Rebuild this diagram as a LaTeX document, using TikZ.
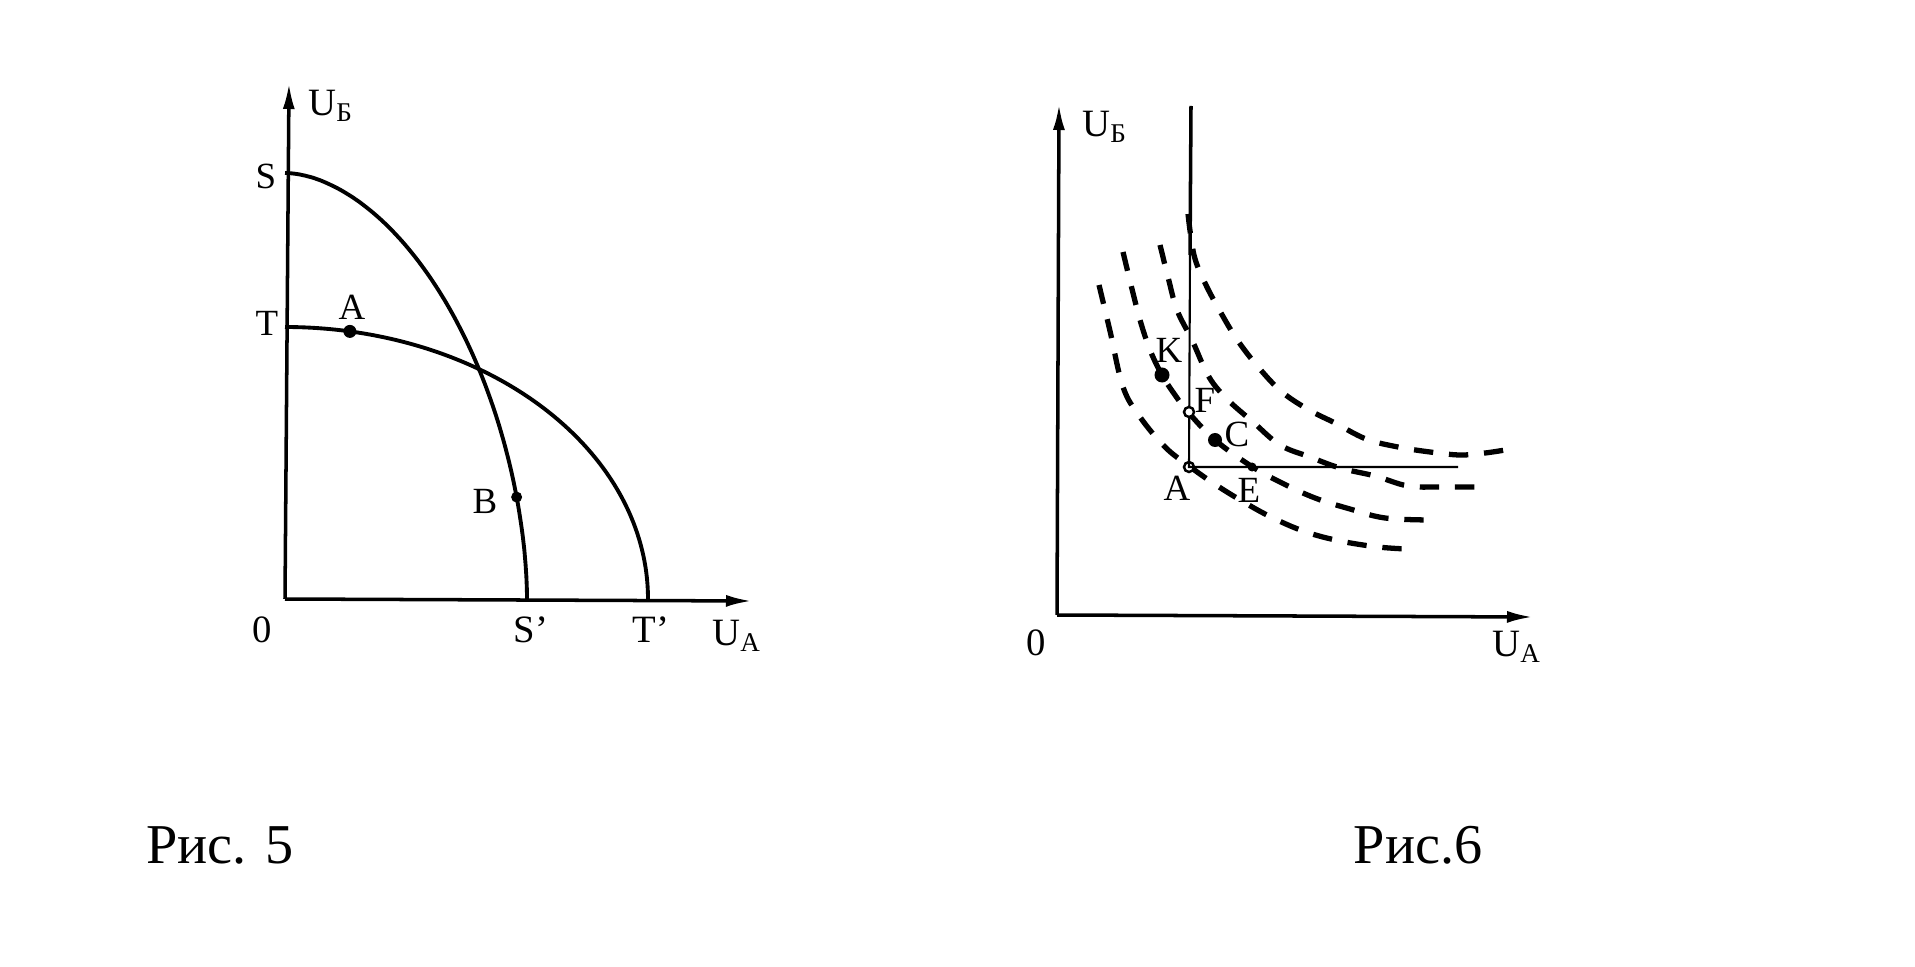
\documentclass[tikz,border=0pt]{standalone}
\usepackage{fontspec}
\setmainfont{Liberation Serif}
\usetikzlibrary{arrows.meta}
\tikzset{
  >={Latex[length=2.6mm,width=1.2mm]},
  axis/.style={->,line width=1pt},
  frontier/.style={line width=1.1pt},
  welfare/.style={line width=1.5pt,dash pattern=on 5.5pt off 4.5pt},
  lbl/.style={font=\fontsize{10.5}{12}\selectfont,inner sep=0pt},
  axlbl/.style={font=\fontsize{11}{13}\selectfont,inner sep=0pt},
  caption/.style={font=\fontsize{16}{19}\selectfont,inner sep=0pt},
  spot/.style={circle,fill,inner sep=0pt,minimum size=#1},
  spot/.default=1.3mm,
  hollow/.style={circle,draw,fill=white,line width=0.7pt,inner sep=0pt,minimum size=1mm},
}

\begin{document}
\begin{tikzpicture}[x=0.01cm,y=-0.01cm]
  \useasboundingbox (0,0) rectangle (1915,967);
  % Рис. 5
  \coordinate (O5) at (285,599);
  \draw[axis] (O5) -- (289,83);
  \draw[axis] (O5) -- (752,601);
  \draw[frontier] plot[domain=0.01:89.99,samples=90,smooth]
    ({285+242*pow(cos(\x),1.11)},{599-426*pow(sin(\x),1.11)});
  \draw[frontier] plot[domain=0:90,samples=90,smooth]
    ({285+363*cos(\x)},{599-272*sin(\x)});
  \node[spot=1.3mm] (a5) at ({285+363*cos(79.7)},{599-272*sin(79.7)}) {};
  \node[spot=1.1mm] (b5) at ({285+242*pow(cos(16),1.11)},{599-426*pow(sin(16),1.11)}) {};
  \node[axlbl] (ub5) at (331,106) {U\textsubscript{Б}};
  \node[lbl] (s5) at (266,176) {S};
  \node[lbl] (t5) at (267,323) {T};
  \node[lbl] (al5) at (352,307) {A};
  \node[lbl] (bl5) at (485,501) {B};
  \node[axlbl] (z5) at (262,630) {0};
  \node[axlbl] (sp5) at (531,630) {S’};
  \node[axlbl] (tp5) at (651,630) {T’};
  \node[axlbl] (ua5) at (737,636) {U\textsubscript{A}};
  \node[caption] (c5) at (220,845) {Рис. 5};

  % Рис. 6
  \coordinate (O6) at (1057,615);
  \draw[axis] (O6) -- (1059,104);
  \draw[axis] (O6) -- (1533,617);
  \coordinate (top6) at (1191,106);
  \coordinate (mid6) at (1190,255);
  \coordinate (end6) at (1458,467);
  \draw[welfare] plot[smooth,tension=0.6] coordinates {(1099,285) (1110,331) (1123,387) (1140,417) (1165,447) (1189,466) (1216,485) (1247,504) (1275,519) (1306,532) (1340,541) (1378,547) (1407,549)};
  \draw[welfare] plot[smooth,tension=0.6] coordinates {(1123,252) (1131,285) (1140,320) (1150,350) (1162,375) (1175,395) (1188,412) (1215,440) (1251,466) (1282,483) (1315,498) (1350,509) (1385,518) (1430,520)};
  \draw[welfare] plot[smooth,tension=0.6] coordinates {(1160,245) (1168,277) (1177,310) (1192,340) (1209,377) (1228,400) (1253,422) (1280,445) (1310,457) (1340,468) (1375,476) (1408,486) (1440,487) (1480,487)};
  \draw[welfare] plot[smooth,tension=0.6] coordinates {(1188,214) (1194,255) (1205,283) (1221,313) (1238,341) (1259,368) (1282,392) (1309,410) (1335,423) (1366,439) (1398,447) (1430,452) (1460,455) (1485,453) (1505,450)};
  \node[hollow] (a6) at (1189,467) {};
  \draw[line width=1pt] (top6) -- (mid6);
  \draw[line width=0.6pt] (mid6) -- (a6.center) -- (end6);
  \node[hollow] (f6) at (1189,412) {};
  \node[spot=1.5mm] (k6) at (1162,375) {};
  \node[spot=1.4mm] (c6) at (1215,440) {};
  \node[spot=0.9mm] (e6) at (1252,467) {};
  \node[axlbl] (ub6) at (1105,127) {U\textsubscript{Б}};
  \node[lbl] (kl6) at (1169,350) {K};
  \node[lbl] (fl6) at (1205,400) {F};
  \node[lbl] (cl6) at (1237,434) {C};
  \node[lbl] (al6) at (1177,488) {A};
  \node[lbl] (el6) at (1249,490) {E};
  \node[axlbl] (z6) at (1036,643) {0};
  \node[axlbl] (ua6) at (1517,647) {U\textsubscript{A}};
  \node[caption] (c6) at (1418,845) {Рис.6};
\end{tikzpicture}
\end{document}
